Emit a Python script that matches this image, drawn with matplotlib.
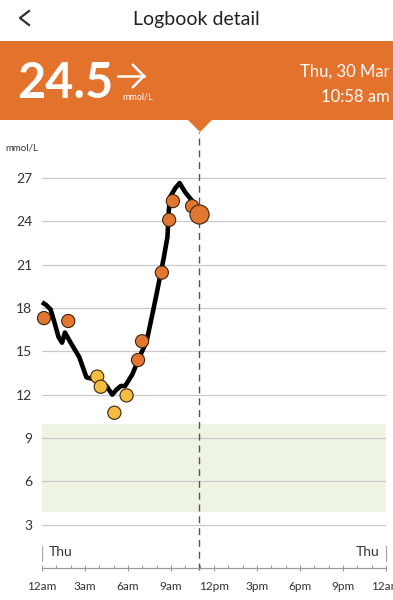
import matplotlib
matplotlib.use("Agg")
import matplotlib.pyplot as plt
from matplotlib.patches import Rectangle, Polygon
from matplotlib.lines import Line2D

plt.rcParams['font.family'] = ['Lato', 'DejaVu Sans']

# sensor trace (hours since midnight, mmol/L)
cgm_h = [0.0, 0.3, 0.6, 0.9, 1.15, 1.4, 1.6, 2.0, 2.6, 3.1, 3.5, 4.0, 4.5, 4.9,
         5.2, 5.5, 5.8, 6.3, 6.8, 7.3, 7.75, 8.0, 8.2, 8.5, 8.75, 8.85, 8.95,
         9.3, 9.6, 10.0, 10.5, 10.97]
cgm_v = [18.4, 18.2, 17.9, 16.9, 16.0, 15.6, 16.3, 15.6, 14.6, 13.2, 13.1, 12.9,
         12.6, 12.0, 12.35, 12.6, 12.6, 13.4, 14.6, 15.7, 17.8, 19.0, 20.0, 21.5,
         22.9, 24.8, 25.7, 26.3, 26.65, 26.0, 25.4, 24.7]

# scans
scan_h = [0.14, 1.83, 3.85, 4.1, 5.05, 5.9, 6.7, 6.98, 8.36, 8.87, 9.13, 10.47]
scan_v = [17.3, 17.1, 13.25, 12.55, 10.75, 11.95, 14.4, 15.7, 20.45, 24.1, 25.4, 25.05]

sel_h, sel_v = 10.97, 24.5
target_lo, target_hi = 3.9, 10.0

yticks = [3, 6, 9, 12, 15, 18, 21, 24, 27]
xticks = [0, 3, 6, 9, 12, 15, 18, 21, 24]
xlabels = ['12am', '3am', '6am', '9am', '12pm', '3pm', '6pm', '9pm', '12am']

ORANGE = '#E2722C'
DOT_OR = '#E07630'
DOT_YE = '#F5BD3E'

W, H = 393, 600
fig = plt.figure(figsize=(W / 100, H / 100), dpi=100)
fig.patch.set_facecolor('white')

def fx(px):
    return px / W

def fy(py):
    return 1 - py / H

# header bar
fig.patches.append(Rectangle((0, fy(120)), 1, fy(41) - fy(120), transform=fig.transFigure,
                             facecolor=ORANGE, edgecolor='none'))
fig.patches.append(Polygon([(fx(188), fy(120)), (fx(212), fy(120)), (fx(200), fy(132))],
                           closed=True, transform=fig.transFigure,
                           facecolor=ORANGE, edgecolor='none'))

# back chevron
fig.lines.append(Line2D([fx(29), fx(20), fx(29)], [fy(11), fy(18), fy(25)],
                        transform=fig.transFigure, color='#333333', lw=1.6))
fig.text(0.5, fy(19), 'Logbook detail', ha='center', va='center',
         fontsize=14, color='#222222')

fig.text(fx(17), fy(83), '24.5', ha='left', va='center', fontsize=35,
         fontweight='bold', color='white')
# trend arrow
fig.lines.append(Line2D([fx(118), fx(144)], [fy(76), fy(76)],
                        transform=fig.transFigure, color='white', lw=1.8))
fig.lines.append(Line2D([fx(133), fx(144), fx(133)], [fy(65), fy(76), fy(87)],
                        transform=fig.transFigure, color='white', lw=1.8,
                        solid_joinstyle='miter'))
fig.text(fx(122), fy(97), 'mmol/L', ha='left', va='center', fontsize=6.5,
         color='white')
fig.text(fx(390), fy(72), 'Thu, 30 Mar', ha='right', va='center', fontsize=12,
         color='white')
fig.text(fx(390), fy(97), '10:58 am', ha='right', va='center', fontsize=12,
         color='white')

# chart axes: x 0..24h -> px 42..386, y 0 at px 568, 27 at px 178
y0_px, y27_px = 568, 178
ppu = (y0_px - y27_px) / 27.0
ytop = 29.5
top_px = y27_px - (ytop - 27) * ppu
ax = fig.add_axes([fx(42), fy(y0_px), fx(386) - fx(42), fy(top_px) - fy(y0_px)])
ax.set_xlim(0, 24)
ax.set_ylim(0, ytop)
ax.set_facecolor('none')

for s in ['top', 'right', 'left']:
    ax.spines[s].set_visible(False)
ax.spines['bottom'].set_color('#9a9a9a')
ax.spines['bottom'].set_linewidth(0.9)

ax.axhspan(target_lo, target_hi, color='#EDF4E4', zorder=0, lw=0)
for v in yticks:
    ax.axhline(v, color='#c9c9c9', lw=0.9, zorder=1)

ax.set_yticks(yticks)
ax.set_yticklabels([str(v) for v in yticks], fontsize=10, color='#333333')
ax.tick_params(axis='y', length=0, pad=7)

ax.set_xticks(xticks)
ax.set_xticklabels(xlabels, fontsize=8.5, color='#333333')
ax.set_xticks(range(25), minor=True)
ax.tick_params(axis='x', which='major', direction='inout', length=5, width=0.8,
               color='#9a9a9a', pad=7)
ax.tick_params(axis='x', which='minor', direction='in', length=2.5, width=0.8,
               color='#9a9a9a')

# day markers
thu_y = (y0_px - 552) / ppu
ax.plot([0, 0], [(y0_px - 561) / ppu, (y0_px - 546) / ppu], color='#aaaaaa', lw=0.9)
ax.plot([24, 24], [(y0_px - 561) / ppu, (y0_px - 546) / ppu], color='#aaaaaa',
        lw=0.9, clip_on=False)
ax.text(0.45, thu_y, 'Thu', ha='left', va='center', fontsize=10, color='#333333')
ax.text(23.55, thu_y, 'Thu', ha='right', va='center', fontsize=10, color='#333333')

ax.text(-37 / 14.33, 27 + (178 - 148) / ppu, 'mmol/L', ha='left', va='center',
        fontsize=7, color='#333333', clip_on=False)

# selected time
ax.plot([sel_h, sel_h], [-0.15, 27 + (178 - 132) / ppu], color='#555555', lw=1.0,
        ls=(0, (5, 3.5)), clip_on=False, zorder=2)

ax.plot(cgm_h, cgm_v, color='black', lw=3.3, solid_capstyle='butt',
        solid_joinstyle='round', zorder=3, clip_on=False)

cols = [DOT_YE if v < 14 else DOT_OR for v in scan_v]
ax.scatter(scan_h, scan_v, s=90, c=cols, edgecolors='#3a2410', linewidths=0.8,
           zorder=4, clip_on=False)
ax.scatter([sel_h], [sel_v], s=190, c=DOT_OR, edgecolors='#3a2410',
           linewidths=0.8, zorder=5, clip_on=False)

fig.savefig('out.png', dpi=100)
